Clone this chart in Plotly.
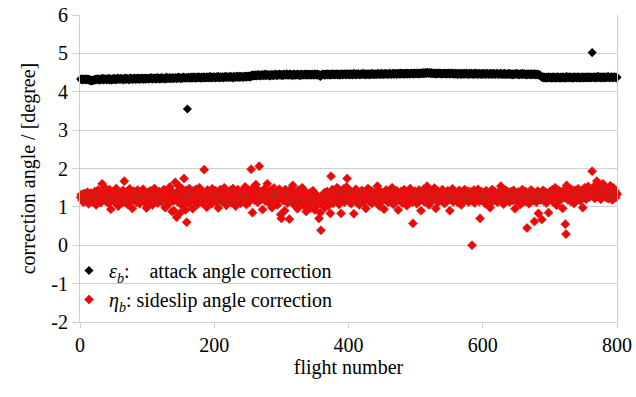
import plotly.graph_objects as go

# ---------------- data ----------------
# attack angle correction eps_b, flights 1..800
eps_b_001_200 = [
    4.33, 4.32, 4.34, 4.31, 4.33, 4.32, 4.33, 4.31, 4.32, 4.34, 4.32, 4.31, 4.33, 4.30, 4.29, 4.31, 4.28, 4.30, 4.29, 4.31,
    4.30, 4.32, 4.31, 4.33, 4.32, 4.34, 4.31, 4.33, 4.32, 4.30, 4.33, 4.34, 4.32, 4.35, 4.31, 4.33, 4.32, 4.34, 4.33, 4.31,
    4.33, 4.32, 4.35, 4.31, 4.34, 4.32, 4.30, 4.33, 4.34, 4.32, 4.35, 4.33, 4.31, 4.34, 4.32, 4.36, 4.33, 4.32, 4.34, 4.33,
    4.35, 4.32, 4.34, 4.33, 4.31, 4.34, 4.36, 4.33, 4.32, 4.35, 4.34, 4.33, 4.31, 4.34, 4.36, 4.33, 4.35, 4.32, 4.34, 4.33,
    4.36, 4.34, 4.32, 4.35, 4.33, 4.34, 4.36, 4.32, 4.35, 4.34, 4.33, 4.36, 4.34, 4.35, 4.32, 4.34, 4.36, 4.33, 4.35, 4.34,
    4.35, 4.33, 4.36, 4.34, 4.35, 4.37, 4.34, 4.33, 4.36, 4.35, 4.34, 4.36, 4.33, 4.35, 4.37, 4.34, 4.36, 4.35, 4.33, 4.36,
    4.34, 4.37, 4.35, 4.34, 4.36, 4.35, 4.33, 4.36, 4.38, 4.35, 4.34, 4.36, 4.35, 4.37, 4.34, 4.36, 4.35, 4.37, 4.34, 4.36,
    4.35, 4.37, 4.36, 4.34, 4.36, 4.38, 4.35, 4.37, 4.36, 4.34, 4.37, 4.35, 4.36, 4.38, 4.35, 4.37, 4.36, 4.35, 4.37, 3.55,
    4.36, 4.38, 4.35, 4.37, 4.36, 4.38, 4.35, 4.37, 4.39, 4.36, 4.37, 4.35, 4.38, 4.36, 4.37, 4.39, 4.36, 4.38, 4.37, 4.35,
    4.38, 4.36, 4.37, 4.39, 4.36, 4.38, 4.37, 4.36, 4.39, 4.37, 4.38, 4.36, 4.38, 4.40, 4.37, 4.36, 4.38, 4.37, 4.39, 4.37,
]
eps_b_201_400 = [
    4.38, 4.36, 4.39, 4.37, 4.38, 4.40, 4.37, 4.36, 4.39, 4.38, 4.37, 4.39, 4.38, 4.36, 4.39, 4.38, 4.40, 4.37, 4.38, 4.39,
    4.37, 4.39, 4.38, 4.40, 4.37, 4.39, 4.38, 4.36, 4.39, 4.40, 4.38, 4.37, 4.39, 4.41, 4.38, 4.39, 4.37, 4.40, 4.39, 4.38,
    4.40, 4.38, 4.39, 4.37, 4.40, 4.39, 4.41, 4.38, 4.40, 4.39, 4.41, 4.40, 4.38, 4.41, 4.43, 4.40, 4.42, 4.44, 4.41, 4.43,
    4.42, 4.44, 4.41, 4.43, 4.45, 4.42, 4.44, 4.43, 4.41, 4.44, 4.43, 4.45, 4.42, 4.44, 4.43, 4.46, 4.42, 4.44, 4.43, 4.45,
    4.43, 4.41, 4.44, 4.42, 4.45, 4.43, 4.44, 4.42, 4.45, 4.43, 4.46, 4.44, 4.42, 4.45, 4.43, 4.44, 4.46, 4.43, 4.45, 4.44,
    4.42, 4.45, 4.43, 4.46, 4.44, 4.43, 4.45, 4.47, 4.44, 4.43, 4.45, 4.44, 4.46, 4.43, 4.45, 4.44, 4.42, 4.45, 4.46, 4.44,
    4.43, 4.45, 4.44, 4.46, 4.43, 4.45, 4.44, 4.42, 4.45, 4.46, 4.44, 4.43, 4.45, 4.44, 4.46, 4.45, 4.43, 4.46, 4.44, 4.45,
    4.44, 4.46, 4.43, 4.45, 4.44, 4.46, 4.45, 4.43, 4.45, 4.47, 4.44, 4.45, 4.43, 4.46, 4.44, 4.45, 4.42, 4.40, 4.43, 4.45,
    4.44, 4.46, 4.45, 4.43, 4.46, 4.44, 4.45, 4.47, 4.44, 4.46, 4.45, 4.43, 4.46, 4.44, 4.45, 4.47, 4.44, 4.46, 4.45, 4.44,
    4.46, 4.45, 4.47, 4.44, 4.46, 4.45, 4.43, 4.46, 4.45, 4.47, 4.44, 4.46, 4.45, 4.47, 4.46, 4.44, 4.46, 4.45, 4.47, 4.45,
]
eps_b_401_600 = [
    4.46, 4.44, 4.47, 4.45, 4.46, 4.44, 4.46, 4.48, 4.45, 4.46, 4.44, 4.47, 4.45, 4.46, 4.47, 4.45, 4.44, 4.46, 4.47, 4.45,
    4.46, 4.48, 4.45, 4.46, 4.44, 4.47, 4.46, 4.45, 4.47, 4.46, 4.44, 4.47, 4.45, 4.46, 4.48, 4.45, 4.46, 4.47, 4.45, 4.46,
    4.47, 4.45, 4.46, 4.48, 4.46, 4.45, 4.47, 4.46, 4.48, 4.45, 4.47, 4.46, 4.45, 4.47, 4.48, 4.46, 4.47, 4.45, 4.47, 4.46,
    4.48, 4.46, 4.47, 4.45, 4.47, 4.48, 4.46, 4.47, 4.46, 4.48, 4.47, 4.45, 4.47, 4.48, 4.46, 4.47, 4.49, 4.46, 4.47, 4.48,
    4.46, 4.47, 4.48, 4.46, 4.48, 4.47, 4.49, 4.46, 4.48, 4.47, 4.46, 4.48, 4.47, 4.49, 4.47, 4.48, 4.46, 4.48, 4.49, 4.47,
    4.48, 4.47, 4.49, 4.48, 4.46, 4.49, 4.48, 4.47, 4.49, 4.48, 4.50, 4.47, 4.49, 4.48, 4.50, 4.48, 4.51, 4.49, 4.48, 4.50,
    4.49, 4.48, 4.50, 4.47, 4.49, 4.48, 4.47, 4.49, 4.48, 4.46, 4.48, 4.47, 4.49, 4.48, 4.47, 4.49, 4.48, 4.46, 4.48, 4.47,
    4.48, 4.47, 4.49, 4.47, 4.48, 4.46, 4.48, 4.47, 4.49, 4.47, 4.46, 4.48, 4.47, 4.49, 4.48, 4.46, 4.47, 4.48, 4.46, 4.48,
    4.47, 4.45, 4.48, 4.46, 4.47, 4.48, 4.46, 4.47, 4.45, 4.48, 4.47, 4.46, 4.48, 4.46, 4.47, 4.49, 4.46, 4.47, 4.45, 4.48,
    4.46, 4.47, 4.48, 4.46, 4.47, 4.45, 4.48, 4.46, 4.47, 4.49, 4.46, 4.47, 4.45, 4.47, 4.48, 4.46, 4.47, 4.45, 4.48, 4.46,
]
eps_b_601_800 = [
    4.47, 4.46, 4.48, 4.45, 4.47, 4.46, 4.48, 4.47, 4.45, 4.47, 4.46, 4.48, 4.47, 4.45, 4.46, 4.48, 4.46, 4.47, 4.45, 4.47,
    4.48, 4.46, 4.47, 4.45, 4.47, 4.46, 4.48, 4.46, 4.45, 4.47, 4.46, 4.48, 4.45, 4.47, 4.46, 4.45, 4.47, 4.46, 4.48, 4.46,
    4.45, 4.47, 4.46, 4.44, 4.47, 4.46, 4.45, 4.47, 4.46, 4.48, 4.45, 4.47, 4.46, 4.44, 4.46, 4.47, 4.45, 4.46, 4.48, 4.45,
    4.46, 4.47, 4.45, 4.46, 4.44, 4.47, 4.45, 4.46, 4.47, 4.45, 4.46, 4.44, 4.47, 4.45, 4.46, 4.45, 4.47, 4.44, 4.46, 4.45,
    4.44, 4.46, 4.45, 4.43, 4.44, 4.42, 4.40, 4.38, 4.37, 4.39, 4.36, 4.38, 4.37, 4.35, 4.38, 4.36, 4.37, 4.39, 4.36, 4.38,
    4.37, 4.35, 4.38, 4.36, 4.39, 4.37, 4.36, 4.38, 4.35, 4.37, 4.39, 4.36, 4.38, 4.37, 4.35, 4.38, 4.36, 4.37, 4.39, 4.36,
    4.38, 4.37, 4.35, 4.38, 4.40, 4.37, 4.36, 4.38, 4.37, 4.39, 4.36, 4.38, 4.37, 4.35, 4.38, 4.36, 4.39, 4.37, 4.38, 4.36,
    4.37, 4.39, 4.36, 4.38, 4.37, 4.35, 4.38, 4.37, 4.39, 4.36, 4.38, 4.37, 4.36, 4.39, 4.37, 4.38, 4.36, 4.39, 4.37, 4.38,
    4.36, 4.38, 5.02, 4.37, 4.39, 4.36, 4.38, 4.37, 4.39, 4.36, 4.38, 4.40, 4.37, 4.38, 4.36, 4.39, 4.37, 4.38, 4.36, 4.39,
    4.37, 4.38, 4.36, 4.39, 4.37, 4.38, 4.40, 4.37, 4.36, 4.38, 4.37, 4.39, 4.38, 4.36, 4.37, 4.39, 4.38, 4.37, 4.36, 4.38,
]

# sideslip angle correction eta_b, flights 1..800
eta_b_001_200 = [
    1.25, 1.32, 1.18, 1.28, 1.12, 1.35, 1.22, 1.30, 1.15, 1.27, 1.38, 1.20, 1.08, 1.31, 1.24, 1.36, 1.14, 1.29, 1.21, 1.33,
    1.17, 1.40, 1.26, 1.05, 1.32, 1.23, 1.44, 1.19, 1.28, 1.36, 1.11, 1.25, 1.60, 1.30, 1.21, 1.38, 1.50, 1.15, 1.27, 1.42,
    1.20, 1.33, 1.09, 1.45, 1.24, 0.94, 1.31, 1.18, 1.39, 1.26, 1.13, 1.35, 1.22, 1.48, 1.16, 1.30, 1.02, 1.37, 1.25, 1.19,
    1.34, 1.27, 1.11, 1.43, 1.23, 1.67, 1.29, 1.16, 1.38, 1.21, 1.06, 1.32, 1.26, 1.47, 1.14, 1.35, 1.22, 0.96, 1.30, 1.41,
    1.18, 1.28, 1.37, 1.12, 1.25, 1.44, 1.20, 1.33, 1.08, 1.29, 1.39, 1.17, 1.26, 1.46, 1.22, 1.13, 1.35, 1.24, 0.97, 1.31,
    1.21, 1.38, 1.15, 1.29, 1.42, 1.19, 1.26, 1.05, 1.34, 1.23, 1.48, 1.16, 1.30, 1.22, 1.37, 1.10, 1.27, 1.40, 1.18, 1.32,
    1.25, 1.13, 1.36, 1.21, 1.45, 1.28, 0.98, 1.33, 1.19, 1.41, 1.24, 1.07, 1.35, 1.52, 1.20, 1.29, 0.88, 1.38, 1.15, 0.90,
    1.31, 1.64, 1.22, 0.73, 1.40, 1.12, 1.55, 1.26, 0.84, 1.36, 1.18, 1.47, 1.02, 1.30, 1.74, 1.21, 0.92, 1.43, 0.60, 1.27,
    1.35, 1.09, 1.48, 1.24, 1.16, 1.38, 1.28, 0.95, 1.42, 1.20, 1.31, 1.13, 1.46, 1.25, 1.06, 1.37, 1.22, 1.50, 1.17, 1.33,
    1.26, 1.41, 1.10, 1.30, 1.97, 1.19, 1.36, 1.23, 0.99, 1.44, 1.27, 1.15, 1.39, 1.21, 1.32, 1.08, 1.47, 1.24, 1.35, 1.18,
]
eta_b_201_400 = [
    1.29, 1.42, 1.12, 1.36, 1.23, 0.97, 1.33, 1.20, 1.45, 1.26, 1.14, 1.38, 1.22, 1.31, 1.50, 1.17, 1.28, 1.04, 1.40, 1.25,
    1.19, 1.34, 1.27, 1.43, 1.11, 1.30, 1.21, 1.48, 1.16, 1.37, 1.24, 1.02, 1.32, 1.26, 1.45, 1.18, 1.35, 1.22, 1.09, 1.39,
    1.28, 1.15, 1.42, 1.23, 1.33, 1.52, 1.20, 1.06, 1.37, 1.26, 1.44, 1.13, 1.31, 1.22, 1.98, 1.38, 0.85, 1.50, 1.25, 1.17,
    1.34, 1.58, 1.21, 1.30, 1.12, 1.43, 2.06, 1.27, 1.18, 1.39, 1.24, 0.93, 1.36, 1.28, 1.47, 1.15, 1.32, 1.22, 1.60, 1.26,
    1.11, 1.37, 1.25, 1.43, 1.19, 0.98, 1.33, 1.22, 1.49, 1.28, 1.14, 1.40, 1.26, 1.05, 1.35, 1.20, 1.46, 1.30, 0.80, 0.70,
    1.24, 1.38, 1.16, 1.32, 0.90, 1.45, 1.22, 1.29, 1.10, 1.40, 1.26, 0.68, 1.35, 1.19, 1.48, 1.23, 1.56, 1.07, 1.31, 1.21,
    1.37, 1.14, 1.28, 0.95, 1.43, 1.20, 1.32, 1.09, 1.39, 1.24, 1.50, 1.17, 1.30, 1.02, 1.41, 1.22, 0.88, 1.34, 1.15, 1.27,
    1.11, 1.36, 1.21, 0.97, 1.30, 1.16, 1.42, 1.08, 1.25, 0.92, 1.33, 1.13, 1.04, 1.28, 1.19, 0.70, 1.10, 0.85, 0.39, 1.15,
    1.06, 1.29, 1.18, 1.37, 0.98, 1.24, 1.12, 1.40, 1.21, 1.03, 1.32, 1.17, 0.83, 1.80, 1.26, 1.45, 1.09, 1.35, 1.22, 1.14,
    1.39, 1.25, 1.50, 1.16, 1.31, 1.06, 1.44, 1.23, 0.83, 1.34, 1.19, 1.28, 1.47, 1.12, 1.37, 1.21, 1.52, 1.74, 1.26, 1.15,
]
eta_b_401_600 = [
    1.33, 1.20, 1.42, 1.08, 1.29, 1.37, 1.18, 0.82, 1.35, 1.24, 1.46, 1.13, 1.30, 1.22, 1.39, 1.05, 1.27, 1.34, 1.16, 1.43,
    1.21, 1.31, 1.12, 1.40, 1.26, 0.96, 1.36, 1.19, 1.48, 1.25, 1.14, 1.33, 1.22, 1.42, 1.09, 1.30, 1.24, 1.38, 1.17, 1.27,
    1.35, 1.11, 1.54, 1.23, 1.32, 1.02, 1.41, 1.20, 1.29, 1.15, 1.37, 1.25, 0.94, 1.33, 1.19, 1.44, 1.22, 1.30, 1.12, 1.39,
    1.24, 1.16, 1.35, 1.27, 1.50, 1.20, 1.06, 1.38, 1.23, 1.31, 1.14, 1.42, 1.26, 0.92, 1.34, 1.18, 1.29, 1.40, 1.21, 1.10,
    1.36, 1.25, 1.45, 1.17, 1.30, 1.22, 1.03, 1.39, 1.27, 1.15, 1.33, 1.48, 1.20, 1.28, 1.12, 0.57, 1.37, 1.24, 1.41, 1.19,
    1.31, 1.08, 1.35, 1.23, 1.44, 1.16, 1.29, 0.90, 1.38, 1.26, 1.21, 1.46, 1.13, 1.33, 1.24, 1.40, 1.54, 1.18, 1.30, 1.05,
    1.36, 1.22, 1.43, 1.15, 1.28, 1.37, 1.19, 1.49, 1.25, 0.96, 1.32, 1.21, 1.41, 1.12, 1.30, 1.24, 1.39, 1.17, 1.27, 1.45,
    1.20, 1.34, 1.09, 1.29, 1.38, 1.23, 1.15, 1.42, 1.26, 1.32, 0.90, 1.19, 1.36, 1.24, 1.47, 1.13, 1.30, 1.21, 1.40, 1.17,
    1.28, 1.36, 1.11, 1.25, 1.43, 1.20, 1.33, 1.05, 1.38, 1.22, 1.30, 1.16, 1.45, 1.24, 1.35, 1.18, 1.27, 1.41, 1.13, 1.32,
    1.23, 1.39, 1.16, 0.00, 1.29, 1.21, 1.44, 1.10, 1.34, 1.26, 1.37, 1.19, 1.46, 1.31, 1.14, 0.70, 1.28, 1.40, 1.22, 1.33,
]
eta_b_601_800 = [
    1.17, 1.36, 1.25, 1.08, 1.42, 1.23, 1.31, 1.19, 1.38, 1.27, 0.98, 1.34, 1.21, 1.45, 1.14, 1.30, 1.26, 1.40, 1.18, 1.33,
    1.24, 1.12, 1.37, 1.22, 1.29, 1.41, 1.54, 1.19, 1.32, 1.26, 1.07, 1.36, 1.23, 1.44, 1.16, 1.31, 1.21, 1.38, 1.28, 1.13,
    1.34, 1.40, 1.22, 1.30, 1.17, 1.43, 1.25, 0.95, 1.35, 1.20, 1.29, 1.12, 1.39, 1.24, 1.31, 1.06, 1.37, 1.22, 1.45, 1.18,
    1.27, 1.33, 1.14, 1.40, 1.21, 0.45, 1.30, 1.25, 1.08, 1.36, 1.19, 1.44, 1.23, 1.31, 1.16, 1.38, 0.62, 1.26, 1.35, 1.12,
    1.29, 1.41, 0.83, 1.22, 1.36, 1.18, 1.32, 0.67, 1.25, 1.43, 1.15, 1.30, 1.21, 1.38, 1.10, 1.27, 1.34, 0.85, 1.24, 1.40,
    1.19, 1.32, 1.26, 1.45, 1.13, 1.35, 1.22, 1.50, 1.28, 1.04, 1.37, 1.21, 1.43, 1.30, 1.16, 1.39, 1.25, 1.33, 0.96, 1.42,
    1.24, 1.36, 0.55, 0.29, 1.56, 1.29, 1.18, 1.40, 1.27, 1.33, 1.14, 1.46, 1.22, 1.38, 1.30, 1.09, 1.43, 1.25, 1.35, 1.20,
    1.31, 1.47, 1.26, 1.38, 1.16, 1.42, 1.29, 1.35, 0.98, 1.44, 1.23, 1.50, 1.32, 1.20, 1.40, 1.28, 1.53, 1.36, 1.25, 1.46,
    1.30, 1.39, 1.93, 1.27, 1.48, 1.35, 1.22, 1.57, 1.41, 1.67, 1.31, 1.44, 1.26, 1.52, 1.38, 1.20, 1.46, 1.34, 1.60, 1.29,
    1.43, 1.37, 1.25, 1.50, 1.32, 1.47, 1.21, 1.40, 1.35, 1.55, 1.28, 1.44, 1.18, 1.38, 1.49, 1.30, 1.42, 1.24, 1.36, 1.33,
]

x_ticks = [0, 200, 400, 600, 800]
y_ticks = [-2, -1, 0, 1, 2, 3, 4, 5, 6]
y_tick_text = ["-2", "-1", "0", "1", "2", "3", "4", "5", "6"]

eps_b = eps_b_001_200 + eps_b_201_400 + eps_b_401_600 + eps_b_601_800
eta_b = eta_b_001_200 + eta_b_201_400 + eta_b_401_600 + eta_b_601_800
flight = list(range(1, len(eps_b) + 1))

FONT = "'Liberation Serif', 'Times New Roman', Times, 'DejaVu Serif', serif"
GRID = "#cfcfcf"
NB = "\u00a0"

fig = go.Figure()
fig.add_trace(go.Scatter(
    x=flight, y=eps_b, mode="markers", cliponaxis=False,
    name="<i>ε</i><sub><i>b</i></sub>:" + NB * 4 + "attack angle correction",
    marker=dict(symbol="diamond", size=7, color="#000000", line=dict(width=0)),
))
fig.add_trace(go.Scatter(
    x=flight, y=eta_b, mode="markers", cliponaxis=False,
    name="<i>η</i><sub><i>b</i></sub>: sideslip angle correction",
    marker=dict(symbol="diamond", size=7, color="#ff0000",
                line=dict(width=0.8, color="rgba(160,60,60,0.85)")),
))

fig.update_layout(
    width=636, height=397,
    margin=dict(l=80, r=19, t=15, b=75, autoexpand=False),
    paper_bgcolor="white", plot_bgcolor="white",
    font=dict(family=FONT, size=20, color="#000000"),
    showlegend=True,
    legend=dict(
        x=(69 - 80) / 537, y=(322 - 251) / 307, xanchor="left", yanchor="top",
        bgcolor="rgba(0,0,0,0)", borderwidth=0,
        font=dict(family=FONT, size=20, color="#000000"),
        tracegroupgap=0, itemsizing="trace",
    ),
    xaxis=dict(
        range=[0, 800], tickmode="array", tickvals=x_ticks,
        showgrid=False, zeroline=False,
        showline=True, linecolor=GRID, linewidth=1,
        ticks="outside", ticklen=5, tickcolor=GRID,
        tickfont=dict(family=FONT, size=20),
        title=dict(text="flight number", font=dict(family=FONT, size=20), standoff=0),
        automargin=False,
    ),
    yaxis=dict(
        range=[-2, 6], tickmode="array", tickvals=y_ticks, ticktext=y_tick_text,
        showgrid=True, gridcolor=GRID, gridwidth=1, zeroline=False,
        showline=True, linecolor=GRID, linewidth=1, mirror=True,
        ticks="outside", ticklen=7, tickcolor=GRID,
        tickfont=dict(family=FONT, size=20),
        title=dict(text="correction angle / [degree]", font=dict(family=FONT, size=20), standoff=10),
        automargin=False,
    ),
)

fig.write_html("out.html")
